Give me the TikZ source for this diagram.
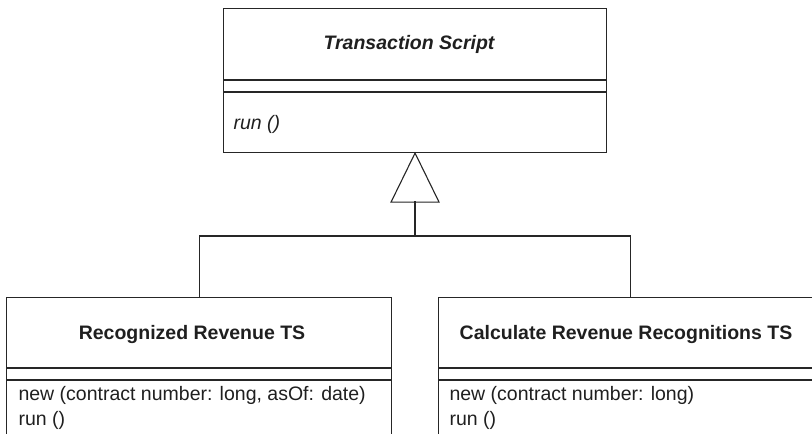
\documentclass[tikz,border=0pt]{standalone}
\usepackage{fontspec}
\setmainfont{Liberation Sans}
\begin{document}
\begin{tikzpicture}[x=1pt,y=-1pt,
  line width=1.1pt,
  every node/.style={font=\fontsize{19.5}{25}\selectfont, text=black!88, inner sep=0pt},
  umlbox/.style={draw=black!85, rectangle, anchor=north west, fill=none},
  cls/.style={font=\fontsize{19.5}{25}\selectfont\bfseries},
  clsit/.style={font=\fontsize{19.5}{25}\selectfont\bfseries\itshape},
  ops/.style={anchor=base west, align=left},
  lnk/.style={draw=black!85}]
\clip (0,0) rectangle (812,434);
\useasboundingbox (0,0) rectangle (812,434);
% top class
\node[umlbox, minimum width=383, minimum height=144] (ts) at (223,8) {};
\node[clsit, anchor=base] (tsname) at (409,49) {Transaction Script};
\draw[lnk] (ts.west |- 0,80) -- (ts.east |- 0,80);
\draw[lnk] (ts.west |- 0,92) -- (ts.east |- 0,92);
\node[ops, font=\fontsize{19.5}{25}\selectfont\itshape] (tsops) at (233,129) {run ()};
% left class
\node[umlbox, minimum width=385, minimum height=170] (rr) at (6,297) {};
\node[cls, anchor=base] (rrname) at (192,339) {Recognized Revenue TS};
\draw[lnk] (rr.west |- 0,368) -- (rr.east |- 0,368);
\draw[lnk] (rr.west |- 0,380) -- (rr.east |- 0,380);
\node[ops, anchor=north west] (rrops) at (18,386) {new (contract number: long, asOf: date)\\run ()};
% right class
\node[umlbox, minimum width=384, minimum height=170] (crr) at (438,297) {};
\node[cls, anchor=base] (crrname) at (626,339) {Calculate Revenue Recognitions TS};
\draw[lnk] (crr.west |- 0,368) -- (crr.east |- 0,368);
\draw[lnk] (crr.west |- 0,380) -- (crr.east |- 0,380);
\node[ops, anchor=north west] (crrops) at (449,386) {new (contract number: long)\\run ()};
% generalization
\coordinate (tribase) at (415,201);
\coordinate (j) at (415,236);
\draw[lnk, fill=white] (ts.south) -- ++(-24,49) -- ++(48,0) -- cycle;
\draw[lnk] (tribase) -- (j);
\draw[lnk] (rr.north) |- (j) -| (crr.north);
\end{tikzpicture}
\end{document}
